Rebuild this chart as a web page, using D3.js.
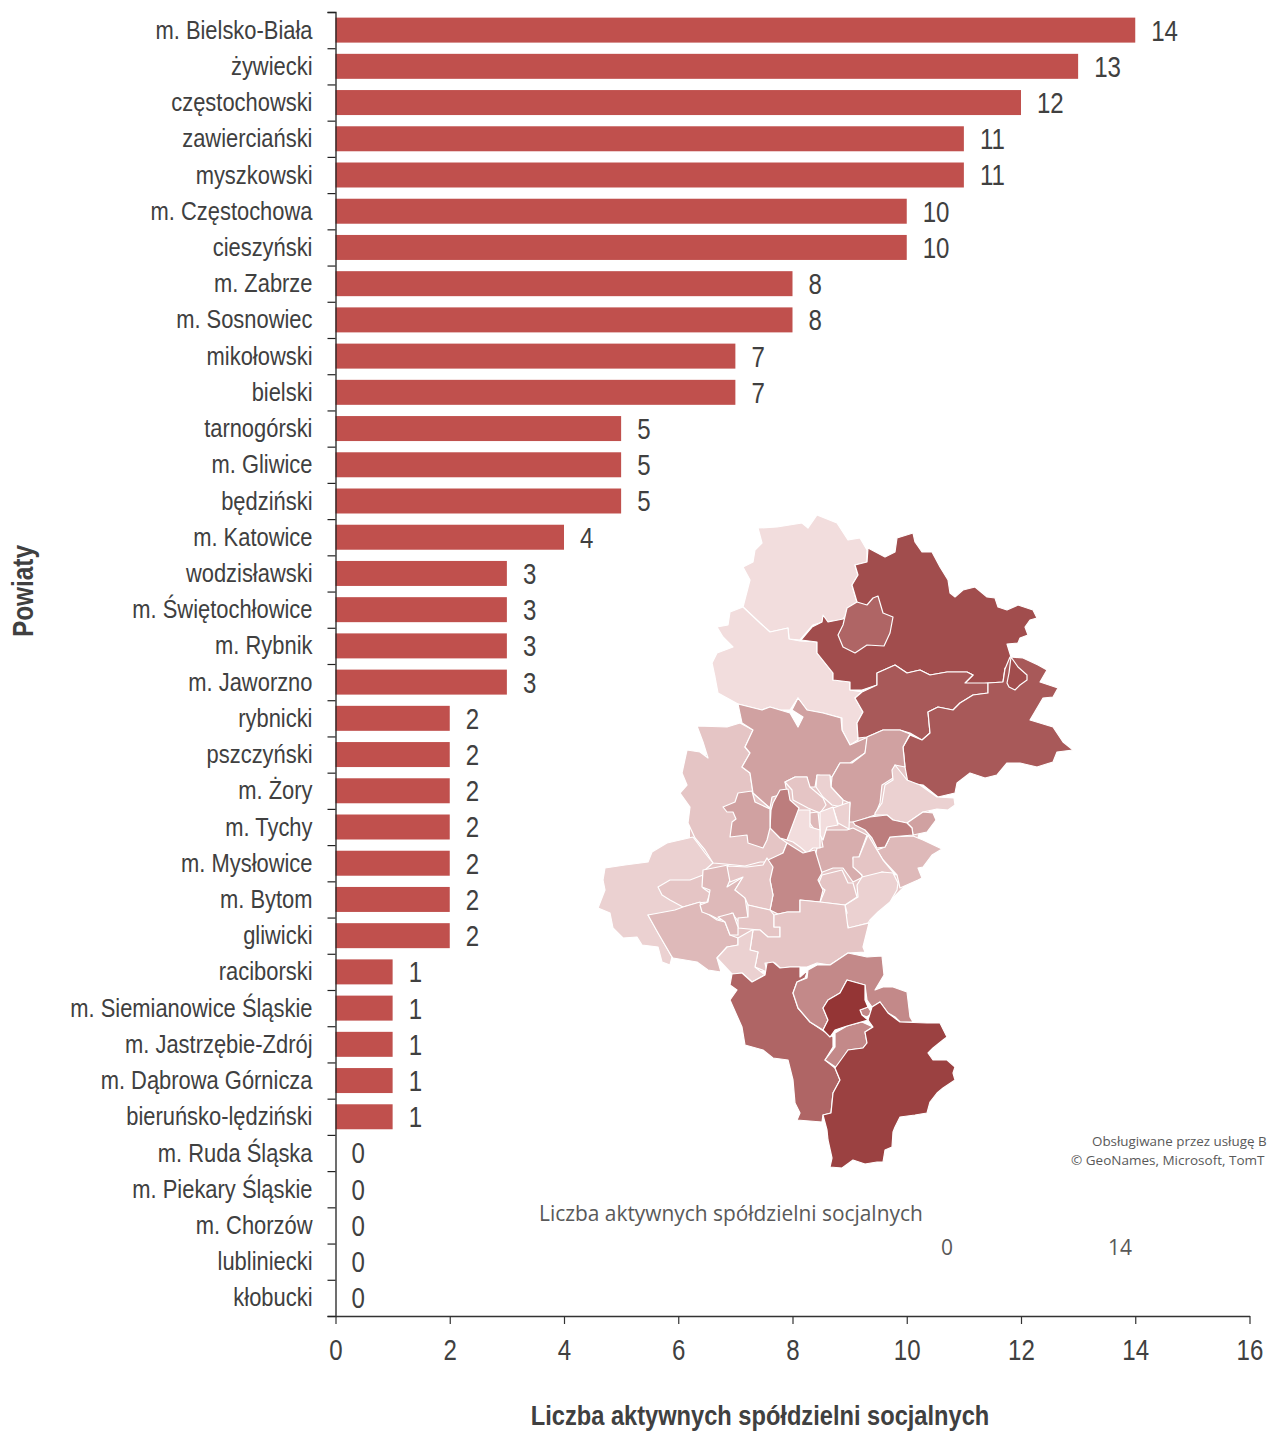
<!DOCTYPE html>
<html>
<head>
<meta charset="utf-8">
<title>Spółdzielnie socjalne</title>
<script src="https://d3js.org/d3.v7.min.js"></script>
<style>
html, body { margin: 0; padding: 0; background: #fff; overflow: hidden; }
svg { display: block; }
text { font-family: "Liberation Sans", Arial, sans-serif; fill: #404040; }
</style>
</head>
<body>
<div id="chart"></div>
<script>
var categories = ["m. Bielsko-Biała","żywiecki","częstochowski","zawierciański","myszkowski","m. Częstochowa","cieszyński","m. Zabrze","m. Sosnowiec","mikołowski","bielski","tarnogórski","m. Gliwice","będziński","m. Katowice","wodzisławski","m. Świętochłowice","m. Rybnik","m. Jaworzno","rybnicki","pszczyński","m. Żory","m. Tychy","m. Mysłowice","m. Bytom","gliwicki","raciborski","m. Siemianowice Śląskie","m. Jastrzębie-Zdrój","m. Dąbrowa Górnicza","bieruńsko-lędziński","m. Ruda Śląska","m. Piekary Śląskie","m. Chorzów","lubliniecki","kłobucki"];
var values = [14,13,12,11,11,10,10,8,8,7,7,5,5,5,4,3,3,3,3,2,2,2,2,2,2,2,1,1,1,1,1,0,0,0,0,0];
var xTicks = [0,2,4,6,8,10,12,14,16];

// light patch under the middle of the map, so the traced borders leave no white holes
var mapBase = [[150,215],[315,230],[318,273],[340,292],[338,305],[328,325],[325,345],[326,364],[300,390],[282,405],[270,436],[240,452],[165,462],[135,445],[60,410],[22,400],[22,365],[60,356],[80,340],[100,333],[100,260]];

// powiat outlines, in map units, biggest first so the small ones sit on top
var mapPowiaty = ["kłobucki","lubliniecki","częstochowski","myszkowski","zawierciański","częstochowski","m. Częstochowa","gliwicki","tarnogórski","będziński","m. Bytom","m. Siemianowice Śląskie","m. Dąbrowa Górnicza","będziński","m. Katowice","m. Siemianowice Śląskie","m. Chorzów","m. Świętochłowice","m. Ruda Śląska","m. Zabrze","m. Gliwice","m. Jaworzno","m. Mysłowice","m. Sosnowiec","bieruńsko-lędziński","m. Tychy","mikołowski","raciborski","rybnicki","wodzisławski","m. Rybnik","rybnicki","m. Żory","wodzisławski","pszczyński","m. Jastrzębie-Zdrój","cieszyński","bielski","bielski","bielski","żywiecki","m. Bielsko-Biała"];
var mapRings = [
[[168,18],[187,17],[212,13],[218,18],[227,5],[247,13],[258,30],[270,28],[277,40],[277,52],[265,55],[268,65],[262,75],[267,92],[253,110],[233,112],[223,115],[210,130],[199,129],[198,118],[180,122],[170,113],[153,97],[160,70],[153,57],[163,52],[165,40],[172,33]],
[[153,97],[170,113],[180,122],[198,118],[199,129],[210,131],[227,132],[227,143],[243,163],[243,170],[260,172],[260,180],[272,182],[265,188],[273,202],[267,213],[268,230],[260,235],[252,220],[252,208],[233,203],[217,200],[208,188],[200,200],[190,200],[180,197],[172,200],[148,194],[128,183],[125,167],[122,153],[127,143],[143,137],[133,127],[127,117],[138,115],[140,102]],
[[278,38],[295,47],[305,42],[307,28],[323,23],[325,32],[332,42],[342,42],[350,57],[358,70],[360,83],[365,87],[373,80],[385,77],[397,87],[405,88],[408,97],[417,100],[428,95],[443,100],[447,108],[440,110],[435,117],[438,125],[430,128],[428,133],[417,134],[421,147],[421,157],[415,158],[413,172],[398,173],[383,175],[375,173],[383,165],[377,162],[357,162],[340,165],[330,160],[317,163],[305,155],[287,163],[287,175],[272,180],[260,180],[260,172],[243,170],[243,163],[227,143],[227,132],[211,130],[222,117],[232,112],[233,105],[238,112],[253,109],[267,92],[262,75],[268,65],[265,55],[277,52]],
[[305,155],[317,163],[330,160],[340,165],[357,162],[377,162],[383,165],[375,173],[398,173],[398,183],[383,185],[370,193],[363,200],[348,197],[338,202],[340,223],[332,230],[320,223],[310,220],[293,220],[277,227],[268,228],[267,213],[273,202],[265,188],[272,182],[287,175],[287,163]],
[[398,173],[413,172],[415,159],[420,147],[433,148],[448,155],[457,160],[450,172],[468,178],[463,187],[453,188],[440,210],[463,217],[473,232],[483,240],[467,242],[463,252],[447,257],[430,253],[417,253],[407,265],[395,268],[380,263],[367,273],[365,283],[348,287],[333,275],[318,273],[315,257],[313,237],[320,225],[332,230],[340,223],[338,202],[348,197],[363,200],[370,193],[383,185],[398,183]],
[[421,147],[428,157],[437,165],[437,170],[430,175],[425,180],[419,177],[417,173],[419,163]],
[[288,86],[293,103],[303,107],[300,123],[294,136],[277,135],[265,143],[253,137],[248,125],[253,115],[257,98],[267,92],[277,95],[283,88]],
[[107,216],[137,217],[150,213],[163,220],[155,237],[160,243],[152,257],[160,263],[163,283],[180,298],[181,318],[190,328],[197,333],[193,343],[178,352],[170,352],[155,356],[135,354],[123,353],[115,340],[105,328],[98,313],[100,297],[90,283],[97,275],[92,263],[97,240],[110,242],[118,248],[113,232]],
[[148,194],[172,200],[180,197],[190,200],[200,203],[208,217],[213,207],[202,200],[208,188],[217,200],[233,203],[251,208],[252,220],[260,235],[278,227],[275,243],[260,253],[250,253],[242,267],[227,265],[225,277],[218,277],[217,267],[205,267],[195,272],[197,283],[182,287],[180,298],[163,283],[160,263],[152,257],[160,243],[155,237],[163,220],[152,213]],
[[277,227],[275,243],[262,253],[250,253],[242,267],[241,277],[253,290],[260,293],[258,312],[265,312],[285,305],[290,293],[292,275],[303,268],[305,255],[315,257],[313,237],[320,224],[310,220],[293,220]],
[[195,272],[205,267],[217,267],[220,277],[233,288],[236,295],[230,303],[218,298],[203,290],[202,280]],
[[227,265],[240,265],[241,277],[253,290],[252,297],[242,295],[233,287],[226,277]],
[[285,303],[292,293],[295,275],[303,270],[302,260],[305,255],[317,270],[330,275],[347,287],[364,288],[365,295],[358,300],[347,299],[333,302],[317,313],[303,310],[297,305],[285,305]],
[[317,313],[333,302],[343,303],[346,310],[337,322],[323,325],[322,318]],
[[277,325],[269,347],[263,348],[266,358],[273,367],[263,372],[253,358],[243,358],[230,363],[225,347],[227,338],[233,337],[230,320],[257,320],[263,318]],
[[243,298],[260,292],[259,319],[248,313]],
[[230,302],[243,297],[248,315],[237,317],[233,330],[230,325]],
[[219,303],[228,302],[230,320],[224,319],[219,312]],
[[197,330],[197,315],[208,300],[220,300],[220,317],[230,320],[230,338],[223,338],[217,343],[210,337],[203,332]],
[[183,293],[190,280],[198,279],[200,290],[209,298],[197,330],[190,328],[180,318],[181,300]],
[[133,297],[145,292],[148,283],[162,281],[165,292],[180,299],[180,318],[177,330],[173,338],[158,333],[157,325],[140,327],[142,312],[146,309],[143,302],[137,302]],
[[300,327],[323,326],[333,330],[352,339],[342,345],[333,357],[328,358],[332,368],[328,370],[310,378],[307,365],[293,350],[287,340],[295,337]],
[[278,325],[287,340],[293,350],[303,362],[306,365],[292,362],[273,373],[272,365],[263,357],[263,347],[269,347]],
[[263,312],[280,307],[297,305],[303,310],[317,313],[322,318],[323,325],[300,327],[295,337],[287,338],[282,328],[275,320],[265,315]],
[[272,367],[292,362],[303,363],[308,373],[307,380],[300,392],[288,402],[280,410],[278,413],[259,418],[254,409],[257,403],[255,395],[268,387],[267,375]],
[[228,375],[232,365],[252,360],[258,373],[263,373],[267,387],[255,395],[230,392],[235,380]],
[[197,333],[213,343],[225,340],[232,363],[228,370],[233,380],[230,392],[210,390],[210,402],[198,402],[188,404],[180,400],[183,385],[180,370],[178,350],[193,343]],
[[15,358],[35,355],[58,352],[62,342],[77,333],[103,327],[115,343],[123,353],[115,360],[113,378],[118,383],[115,392],[93,398],[83,405],[58,405],[82,447],[80,455],[72,452],[68,437],[52,435],[47,427],[33,428],[23,418],[20,403],[8,398],[15,380],[13,370]],
[[68,377],[80,370],[100,370],[113,365],[113,378],[120,383],[117,392],[107,393],[93,397],[80,390],[72,385]],
[[58,405],[85,400],[93,397],[110,392],[112,400],[127,410],[135,412],[140,425],[148,428],[148,435],[137,437],[127,448],[131,462],[118,460],[107,452],[83,448],[82,447],[68,423]],
[[113,360],[138,355],[140,370],[137,377],[153,367],[145,380],[155,387],[158,408],[148,411],[142,403],[130,410],[120,405],[112,402],[110,395],[118,392],[120,380],[112,377]],
[[137,356],[157,357],[173,355],[177,348],[183,357],[180,370],[183,385],[180,400],[170,398],[158,395],[155,388],[145,380],[153,367],[140,372]],
[[158,395],[180,400],[184,405],[184,417],[190,417],[190,427],[178,427],[170,420],[148,418],[148,408],[158,407]],
[[128,407],[143,403],[148,417],[148,425],[140,425],[135,412]],
[[163,420],[170,420],[178,427],[190,427],[190,417],[184,417],[184,405],[197,402],[210,402],[210,390],[230,392],[255,395],[258,418],[279,413],[273,437],[275,442],[258,443],[240,455],[227,453],[217,457],[200,457],[190,458],[185,453],[175,453],[177,462],[165,457],[168,442],[160,440]],
[[148,428],[162,420],[163,420],[160,440],[168,442],[165,457],[175,465],[162,472],[152,463],[142,464],[127,448],[137,437],[148,435]],
[[142,464],[152,463],[162,472],[175,465],[177,453],[183,452],[190,458],[200,457],[210,457],[210,467],[218,460],[215,468],[207,472],[203,483],[208,498],[220,512],[232,520],[243,527],[243,537],[235,550],[245,558],[250,570],[243,583],[241,603],[233,605],[232,612],[207,610],[210,603],[205,593],[203,570],[198,550],[183,548],[173,540],[155,535],[152,517],[140,490],[147,480],[140,475]],
[[207,472],[217,468],[218,460],[227,455],[240,455],[258,443],[277,447],[292,446],[294,465],[285,480],[293,477],[303,477],[317,482],[320,507],[323,512],[310,512],[305,507],[298,503],[290,492],[282,497],[277,490],[275,475],[257,470],[250,483],[238,490],[233,498],[238,510],[233,520],[220,512],[208,498],[203,483]],
[[245,523],[257,516],[272,512],[283,517],[275,522],[277,533],[273,538],[258,540],[247,558],[235,550],[245,537]],
[[270,500],[278,497],[282,503],[277,507],[272,505]],
[[290,492],[298,503],[310,512],[337,513],[350,513],[357,527],[353,530],[343,538],[338,543],[343,550],[357,550],[365,557],[363,563],[365,570],[353,578],[347,583],[340,592],[337,603],[325,605],[310,607],[305,617],[303,622],[302,637],[295,640],[293,652],[287,652],[275,654],[263,650],[252,658],[240,657],[242,648],[238,630],[237,620],[233,605],[241,603],[243,583],[250,570],[245,558],[258,540],[273,538],[277,533],[275,522],[283,517],[278,510],[282,497]],
[[257,470],[275,475],[275,490],[278,497],[270,500],[272,505],[278,510],[257,516],[245,520],[240,527],[233,520],[238,510],[233,498],[238,490],[250,483]]
];

var width = 1269, height = 1432;
var margin = {top: 12, right: 20, bottom: 116, left: 335.5};
var innerW = width - margin.left - margin.right;
var innerH = height - margin.top - margin.bottom;
var narrow = 0.83; // the picture uses a narrow face, none is installed so squeeze the sans

var svg = d3.select("#chart").append("svg")
    .attr("width", width)
    .attr("height", height);

var g = svg.append("g")
    .attr("transform", "translate(" + margin.left + "," + margin.top + ")");

var x = d3.scaleLinear().domain([0, 16]).range([0, 914]);
var y = d3.scaleBand().domain(categories).range([0, innerH]).paddingInner(0.31).paddingOuter(0.155);
// y tick marks fall between the categories, so they get their own scale
var yEdges = d3.scaleLinear().domain([0, categories.length]).range([0, innerH]);

g.selectAll("rect.bar")
    .data(categories)
    .enter().append("rect")
    .attr("class", "bar")
    .attr("x", x(0))
    .attr("y", function(d) { return y(d); })
    .attr("width", function(d, i) { return x(values[i]); })
    .attr("height", y.bandwidth())
    .attr("fill", "#c0504d");

g.selectAll("text.val")
    .data(categories)
    .enter().append("text")
    .attr("class", "val")
    .attr("transform", function(d, i) {
        return "translate(" + (x(values[i]) + 16) + "," + (y(d) + y.bandwidth() / 2) + ") scale(" + narrow + ",1)";
    })
    .attr("dy", "0.36em")
    .style("font-size", "29px")
    .text(function(d, i) { return values[i]; });

var yAxisMarks = g.append("g")
    .call(d3.axisLeft(yEdges).ticks(categories.length).tickSize(8).tickFormat(""));
yAxisMarks.select(".domain").attr("stroke", "#222").attr("stroke-width", 1.3);
yAxisMarks.selectAll("line").attr("stroke", "#222").attr("stroke-width", 1.2);

var yAxisLabels = g.append("g")
    .call(d3.axisLeft(y).tickSize(0).tickPadding(23));
yAxisLabels.select(".domain").remove();
yAxisLabels.selectAll("text")
    .attr("transform", "translate(-23,0) scale(0.843,1)")
    .attr("x", 0)
    .attr("dy", "0.33em")
    .style("font-size", "26px")
    .style("font-family", null)
    .attr("fill", null);

var xAxis = g.append("g")
    .attr("transform", "translate(0," + innerH + ")")
    .call(d3.axisBottom(x).tickValues(xTicks).tickSize(8).tickPadding(15).tickSizeOuter(0));
xAxis.select(".domain").attr("stroke", "#333").attr("stroke-width", 1.3);
xAxis.selectAll("line").attr("stroke", "#333").attr("stroke-width", 1.2);
xAxis.selectAll("text")
    .attr("transform", "scale(" + narrow + ",1)")
    .style("font-size", "29px")
    .style("font-family", null)
    .attr("fill", null);

svg.append("text")
    .attr("transform", "translate(33,591) rotate(-90) scale(0.84,1)")
    .attr("text-anchor", "middle")
    .style("font-size", "29px")
    .style("font-weight", "bold")
    .text("Powiaty");

svg.append("text")
    .attr("transform", "translate(760,1425) scale(0.83,1)")
    .attr("text-anchor", "middle")
    .style("font-size", "28.5px")
    .style("font-weight", "bold")
    .text("Liczba aktywnych spółdzielni socjalnych");

// map inset
var mapColor = d3.scaleLinear().domain([0, 14]).range(["#f2dddd", "#943535"]);
var mapPath = d3.geoPath(d3.geoIdentity().translate([590, 510]));
function ringPath(ring) {
    return mapPath({type: "Polygon", coordinates: [ring.concat([ring[0]])]});
}

var mapG = svg.append("g");
mapG.append("path")
    .attr("d", ringPath(mapBase))
    .attr("fill", mapColor(2));

mapG.selectAll("path.powiat")
    .data(mapRings)
    .enter().append("path")
    .attr("class", "powiat")
    .attr("d", ringPath)
    .attr("fill", function(ring, i) { return mapColor(values[categories.indexOf(mapPowiaty[i])]); })
    .attr("stroke", "#fff")
    .attr("stroke-width", 1.2)
    .attr("stroke-linejoin", "round");

function mapText(tx, ty, size, str) {
    svg.append("text")
        .attr("x", tx)
        .attr("y", ty)
        .style("font-family", "'Open Sans', sans-serif")
        .style("font-size", size + "px")
        .style("fill", "#595959")
        .text(str);
}
mapText(539, 1221, 20.9, "Liczba aktywnych spółdzielni socjalnych");
mapText(941, 1255, 21, "0");
mapText(1108, 1255, 21, "14");
// the picture itself is cut here at its right edge
mapText(1092, 1146, 13.4, "Obsługiwane przez usługę B");
mapText(1071, 1165, 13.5, "© GeoNames, Microsoft, TomT");
</script>
</body>
</html>
